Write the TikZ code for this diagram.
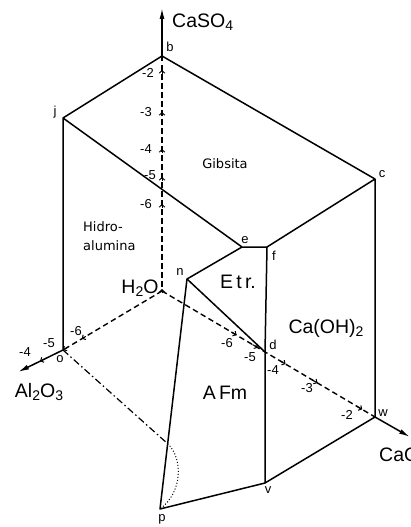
\documentclass[tikz,border=0pt]{standalone}
\usepackage{fontspec}
\setmainfont{Liberation Sans}
\newfontfamily\gibfont{DejaVu Sans}
\usetikzlibrary{arrows.meta,calc}
\newcommand\lowidx[1]{\raisebox{-0.35ex}{\fontsize{14}{14}\selectfont #1}}
\tikzset{
  edge/.style={line width=1.5pt, line join=round},
  axisd/.style={line width=1.4pt, dash pattern=on 5.5pt off 3.5pt},
  axarrow/.style={line width=1.5pt, -{Latex[length=11pt,width=5pt]}},
  big/.style={font=\fontsize{19.5}{21}\selectfont, inner sep=0pt},
  vlab/.style={font=\fontsize{13}{13}\selectfont, inner sep=0pt},
  tlab/.style={font=\fontsize{13}{13}\selectfont, inner sep=0pt},
  region/.style={font=\gibfont\fontsize{13}{19}\selectfont, inner sep=0pt, align=left},
  tickarr/.style={-{Straight Barb[length=2.5pt,width=5.5pt]}, line width=1pt},
}
\begin{document}
\begin{tikzpicture}[x=1pt,y=-1pt]
\useasboundingbox (0,0) rectangle (410,527);
% vertices
\coordinate (O) at (162,291);
\coordinate (b) at (162,56);
\coordinate (j) at (63,118);
\coordinate (c) at (375,179);
\coordinate (e) at (242,247);
\coordinate (f) at (267,247);
\coordinate (n) at (187,279);
\coordinate (d) at (265,352);
\coordinate (o) at (63,350);
\coordinate (w) at (375,417);
\coordinate (v) at (265,483);
\coordinate (p) at (160,509);
\coordinate (tS) at (162,8);
\coordinate (tA) at (18,372);
\coordinate (tC) at (410,437);
\coordinate (q) at ($(n)!0.716!(p)$);
% axes
\draw[axarrow] (b) -- (tS);
\draw[axarrow] (o) -- (tA);
\draw[axarrow] (w) -- (tC);
\draw[axisd] (b) -- (O);
\draw[axisd] (O) -- (o);
\draw[axisd] (O) -- (w);
% solid edges
\draw[edge] (o) -- (j) -- (b) -- (c) -- (w) -- (v) -- (p) -- (n) -- (e) -- (f) -- (c);
\draw[edge] (j) -- (e);
\draw[edge] (n) -- (d);
\draw[edge] (f) -- (d) -- (v);
% dash-dot and dotted arc
\draw[line width=1.2pt, dash pattern=on 7pt off 3pt on 1.5pt off 3pt] (o) -- (q);
\draw[line width=1pt, dotted] (q) .. controls (183,458) and (183,492) .. (p);
% ticks on CaSO4 axis
\foreach \yy in {70,112,149,177,204,289}
  \draw[tickarr] (162,\yy+4) -- (162,\yy);
% ticks on H2O - CaO axis
\foreach \t in {0.35,0.45,0.58,0.73,0.94}
  \draw[tickarr] ($(O)!\t-0.025!(w)$) -- ($(O)!\t!(w)$);
% ticks on H2O - Al2O3 axis
\draw[tickarr] ($(O)!0.77!(o)$) -- ($(O)!0.81!(o)$);
\draw[tickarr] ($(O)!0.95!(o)$) -- (o);
\draw[tickarr] ($(o)!0.42!(tA)$) -- ($(o)!0.51!(tA)$);
% tick labels
\node[tlab] (s2) at (148,73) {-2};
\node[tlab] (s3) at (146,112) {-3};
\node[tlab] (s4) at (146,149) {-4};
\node[tlab] (s5) at (150,175) {-5};
\node[tlab] (s6) at (146,204) {-6};
\node[tlab] (c6) at (227,343) {-6};
\node[tlab] (c5) at (250,357) {-5};
\node[tlab] (c4) at (273,370) {-4};
\node[tlab] (c3) at (307,388) {-3};
\node[tlab] (c2) at (347,415) {-2};
\node[tlab] (a6) at (76,331) {-6};
\node[tlab] (a5) at (49,343) {-5};
\node[tlab] (a4) at (25,352) {-4};
% vertex labels
\node[vlab] (lb) at (170,47) {b};
\node[vlab] (lj) at (55,112) {j};
\node[vlab] (lc) at (382,174) {c};
\node[vlab] (le) at (245,240) {e};
\node[vlab] (lf) at (274,256) {f};
\node[vlab] (ln) at (180,272) {n};
\node[vlab] (ld) at (273,345) {d};
\node[vlab] (lo) at (60,359) {o};
\node[vlab] (lp) at (162,519) {p};
\node[vlab] (lv) at (268,490) {v};
\node[vlab] (lw) at (383,413) {w};
% big labels
\node[big, anchor=west] (CaSO) at (172,22) {CaSO\lowidx{4}};
\node[big] (H2O) at (140,288) {H\lowidx{2}O};
\node[big] (Etr) at (238,282) {E\,t\,r.};
\node[big] (CaOH) at (326,328) {Ca(OH)\lowidx{2}};
\node[big] (AFm) at (225,393) {A\,Fm};
\node[big] (Al) at (39,392) {Al\lowidx{2}O\lowidx{3}};
\node[big, anchor=west] (CaO) at (379,455) {CaO};
% region labels
\node[region] (gib) at (225,164) {Gibsita};
\node[region, anchor=west] (hid) at (83,236) {Hidro-\\alumina};
\end{tikzpicture}
\end{document}
